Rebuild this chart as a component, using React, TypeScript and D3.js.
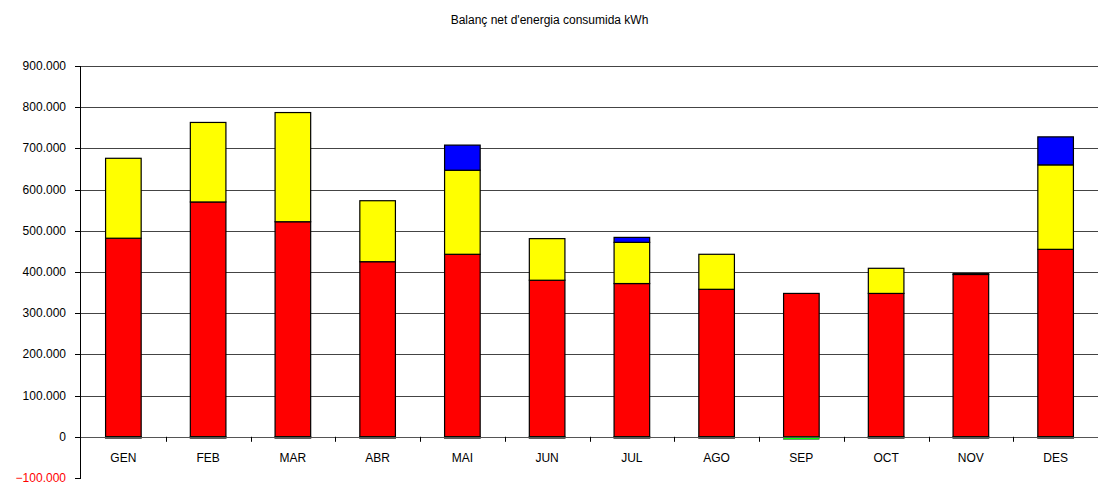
import * as d3 from 'd3';
import React from 'react';

const months = ['GEN', 'FEB', 'MAR', 'ABR', 'MAI', 'JUN', 'JUL', 'AGO', 'SEP', 'OCT', 'NOV', 'DES'];
const redValues = [482000, 570000, 522000, 425000, 443000, 380000, 372000, 358000, 348000, 348000, 394000, 455000];
const yellowValues = [194000, 193000, 265000, 148000, 204000, 101000, 100000, 85000, 0, 61000, 2000, 205000];
const blueValues = [0, 0, 0, 0, 61000, 0, 12000, 0, 0, 0, 0, 68000];
const greenValues = [-3000, -3000, -3000, -3000, -3000, -3000, -3000, -3000, -6000, -3000, -3000, -3000];
const yTicks = [-100000, 0, 100000, 200000, 300000, 400000, 500000, 600000, 700000, 800000, 900000];

const title = "Balanç net d'energia consumida kWh";

export default function App() {
  const width = 1099;
  const height = 484;
  const margin = { top: 66, right: 1, bottom: 6, left: 81 };

  const fmt = d3.formatLocale({ decimal: ',', thousands: '.', grouping: [3], currency: ['', ''] }).format(',d');

  const x = d3.scaleBand().domain(months).range([margin.left, width - margin.right]).paddingInner(0).paddingOuter(0);
  const y = d3.scaleLinear().domain([-100000, 900000]).range([height - margin.bottom, margin.top]);

  const barW = x.bandwidth() * 0.42;
  const series = [
    { key: 'red', color: '#ff0000', values: redValues },
    { key: 'yellow', color: '#ffff00', values: yellowValues },
    { key: 'blue', color: '#0000ff', values: blueValues },
  ];

  return (
    <svg width={width} height={height} style={{ position: 'absolute', left: 0, top: 0, background: '#fff' }} fontFamily="Liberation Sans, Arial, sans-serif">
      <text x={width / 2} y={24} textAnchor="middle" fontSize={12} fill="#000">{title}</text>

      {yTicks.filter(t => t > 0).map(t => (
        <line key={`g-${t}`} x1={margin.left} x2={width - margin.right} y1={Math.round(y(t)) + 0.5} y2={Math.round(y(t)) + 0.5} stroke="#444" strokeWidth={1} />
      ))}

      {months.map((m, i) => {
        const cx = (x(m) ?? 0) + x.bandwidth() / 2;
        let acc = 0;
        const rects = series.map(s => {
          const v = s.values[i];
          const y0 = y(acc);
          acc += v;
          const y1 = y(acc);
          if (v <= 0) return null;
          return <rect key={s.key} x={cx - barW / 2} y={y1} width={barW} height={y0 - y1} fill={s.color} stroke="#000" strokeWidth={1.2} />;
        });
        const g = greenValues[i];
        return (
          <g key={m}>
            {rects}
            <rect x={cx - barW / 2} y={y(0)} width={barW} height={y(g) - y(0)} fill="#00ff00" stroke="#000" strokeWidth={g < -4000 ? 0.4 : 1.2} />
          </g>
        );
      })}

      <line x1={margin.left} x2={width - margin.right} y1={Math.round(y(0)) + 0.5} y2={Math.round(y(0)) + 0.5} stroke="#555" />
      {months.map((m, i) => i > 0 ? (
        <line key={`xt-${m}`} x1={Math.round(x(m) ?? 0) + 0.5} x2={Math.round(x(m) ?? 0) + 0.5} y1={y(0)} y2={y(0) + 5} stroke="#000" />
      ) : null)}
      {months.map(m => (
        <text key={`xl-${m}`} x={(x(m) ?? 0) + x.bandwidth() / 2} y={y(0) + 25} textAnchor="middle" fontSize={12} fill="#000">{m}</text>
      ))}

      <line x1={margin.left - 0.5} x2={margin.left - 0.5} y1={y(900000)} y2={y(-100000)} stroke="#000" />
      {yTicks.map(t => (
        <g key={`yt-${t}`}>
          <line x1={margin.left - 6} x2={margin.left} y1={Math.round(y(t)) + 0.5} y2={Math.round(y(t)) + 0.5} stroke="#000" />
          <text x={margin.left - 15} y={y(t) + 4} textAnchor="end" fontSize={12} fill={t < 0 ? '#ff0000' : '#000'}>{fmt(t)}</text>
        </g>
      ))}
    </svg>
  );
}
